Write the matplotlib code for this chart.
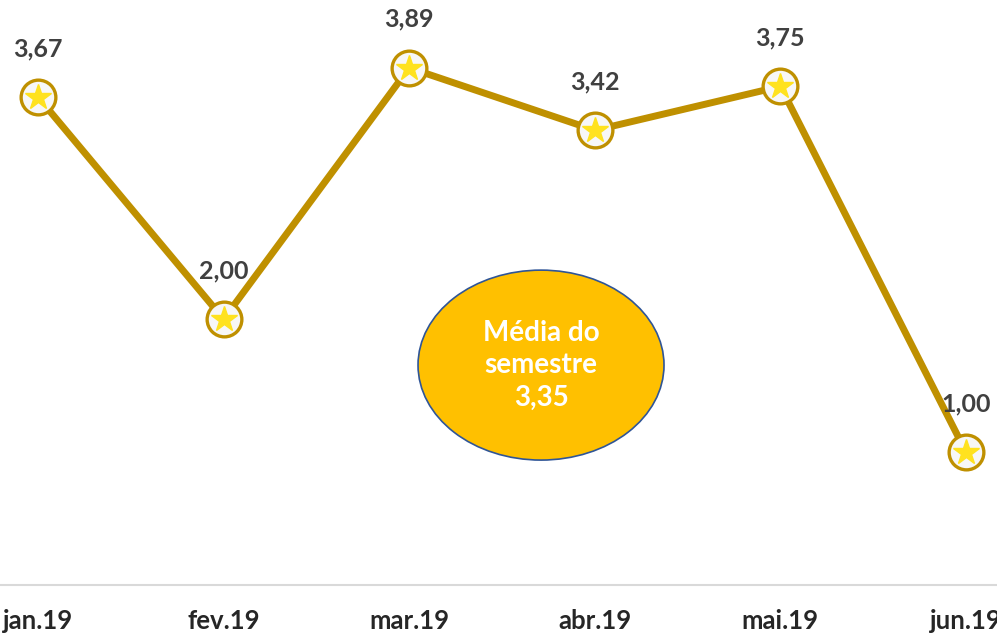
import matplotlib
matplotlib.use("Agg")
import matplotlib.pyplot as plt
from matplotlib.patches import Ellipse

months = ["jan.19", "fev.19", "mar.19", "abr.19", "mai.19", "jun.19"]
values = [3.67, 2.00, 3.89, 3.42, 3.75, 1.00]
media_label = "Média do\nsemestre\n3,35"

plt.rcParams['font.family'] = ['Lato', 'DejaVu Sans']

fig = plt.figure(figsize=(9.97, 6.38), dpi=100)
ax = fig.add_axes([0, 0.083, 1, 0.917])
x = list(range(len(months)))
gold = "#BF9000"
ax.plot(x, values, color=gold, lw=5, zorder=2, solid_capstyle='round')
ax.plot(x, values, 'o', ms=25, mfc="#F7F7F7", mec=gold, mew=2.4, zorder=3)
ax.plot(x, values, '*', ms=19, mfc="#FFE21F", mec="#FFE21F", zorder=4)
for xi, v in zip(x, values):
    ax.annotate(f"{v:.2f}".replace('.', ','), (xi, v), xytext=(0, 35),
                textcoords='offset points', ha='center', va='center',
                fontsize=18, fontweight='bold', color="#404040", zorder=5)

ax.set_xlim(-0.205, 5.167)
ax.set_ylim(0, 4.40)
ax.set_xticks(x)
ax.set_xticklabels(months, fontsize=18.5, fontweight='bold', color="#262626")
ax.tick_params(axis='x', length=0, pad=17)
ax.set_yticks([])
for s in ['top', 'right', 'left']:
    ax.spines[s].set_visible(False)
ax.spines['bottom'].set_color("#D9D9D9")
ax.spines['bottom'].set_linewidth(1.5)

ell_x = (541 - 38) / 185.6
ell_y = (585 - 365) / 133.0
ell = Ellipse((ell_x, ell_y), width=246 / 185.6, height=190 / 133.0,
              facecolor="#FFC000", edgecolor="#2F5597", lw=1.2, zorder=1)
ax.add_patch(ell)
ax.text(ell_x, ell_y, media_label, ha='center', va='center', color='white',
        fontsize=20, fontweight='bold', linespacing=1.3, zorder=2)

fig.savefig("out.png", dpi=100)
